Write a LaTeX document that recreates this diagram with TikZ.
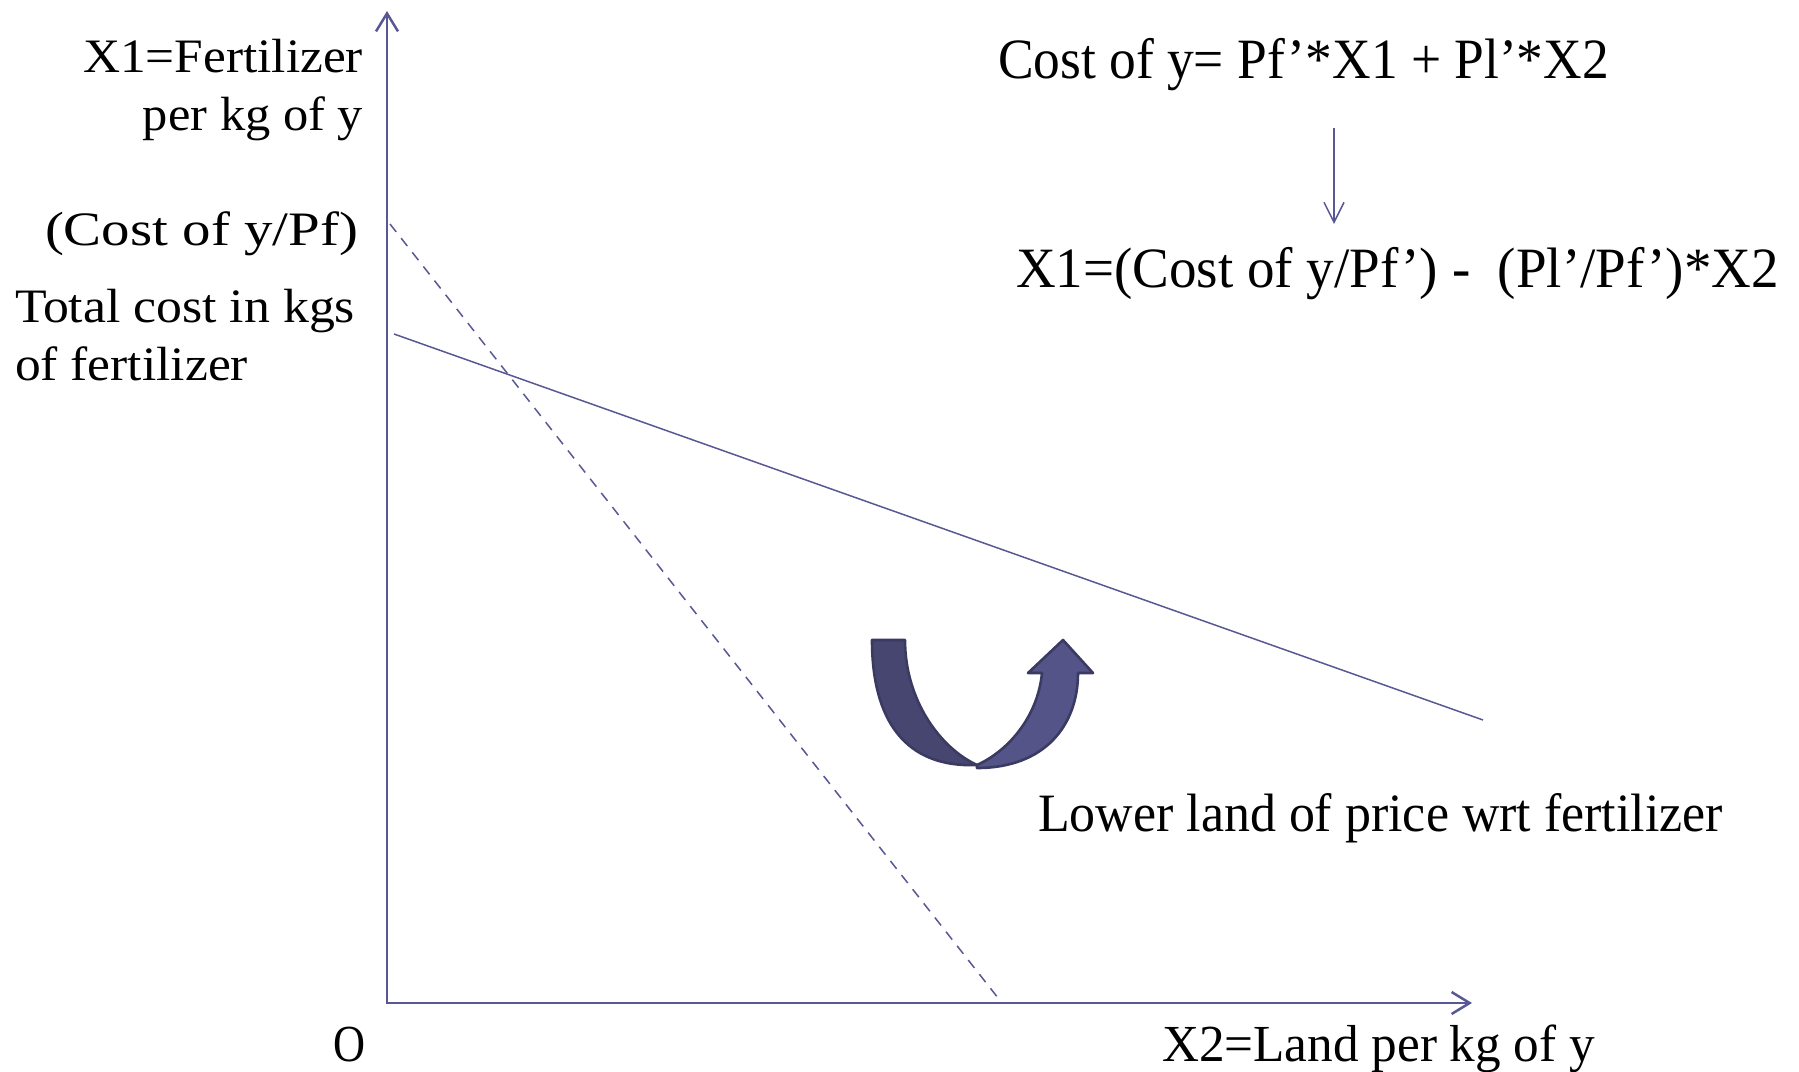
\documentclass[tikz,border=0pt]{standalone}
\usepackage{fontspec}
\setmainfont{Liberation Serif}
\usetikzlibrary{arrows.meta}
\newcommand\fw[3]{\fontsize{#1}{#1}\selectfont\resizebox{#2}{\height}{#3}}
\definecolor{axisc}{RGB}{88,88,148}
\definecolor{armdark}{RGB}{70,70,112}
\definecolor{armlight}{RGB}{84,84,136}
\definecolor{armline}{RGB}{58,58,98}
\tikzset{
  lbl/.style={inner sep=0pt, outer sep=0pt, text=black},
  axisline/.style={draw=axisc, line width=1.25pt},
  budget/.style={draw=axisc, line width=0.75pt},
}
\begin{document}
\begin{tikzpicture}[x=0.5pt,y=-0.5pt]
\path[use as bounding box] (0,0) rectangle (1799,1071);
% axes
\coordinate (ytop) at (387,11);
\coordinate (orig) at (387,1003);
\coordinate (xend) at (1472,1003);
\draw[axisline,{Straight Barb[length=9pt,width=11pt]}-{Straight Barb[length=9pt,width=11pt]}] (ytop) -- (orig) -- (xend);
% budget lines
\coordinate (d1) at (390,224);
\coordinate (d2) at (1002,1003);
\draw[budget,dashed,dash pattern=on 5pt off 4pt] (d1) -- (d2);
\coordinate (s1) at (394,334);
\coordinate (s2) at (1483,720);
\draw[budget] (s1) -- (s2);
% left labels
\node[lbl,anchor=base east] (x1lab) at (363,72) {\fw{24pt}{140pt}{X1=Fertilizer}};
\node[lbl,anchor=base east] (x1lab2) at (363,130) {\fw{24pt}{110pt}{per kg of y}};
\node[lbl,anchor=base east] (costpf) at (358,245) {\fw{24pt}{156.5pt}{(Cost of y/Pf)}};
\node[lbl,anchor=base west] (tot1) at (15,322) {\fw{24pt}{170pt}{Total cost in kgs}};
\node[lbl,anchor=base west] (tot2) at (15,380) {\fw{24pt}{116.5pt}{of fertilizer}};
% equations
\node[lbl,anchor=base west] (eq1) at (998,78) {\fw{28.5pt}{305.5pt}{Cost of y= Pf’*X1 + Pl’*X2}};
\node[lbl,anchor=base west] (eq2) at (1016,287) {\fw{28.5pt}{381.5pt}{X1=(Cost of y/Pf’) -\ \ (Pl’/Pf’)*X2}};
\coordinate (a1) at (1334,128);
\coordinate (a2) at (1334,224);
\draw[draw=axisc, line width=0.75pt, -{Straight Barb[length=10pt,width=10pt]}] (a1) -- (a2);
% bottom labels
\node[lbl,anchor=base west] (olab) at (333,1061) {\fw{26pt}{16pt}{O}};
\node[lbl,anchor=base west] (x2lab) at (1162,1061) {\fw{26pt}{216.5pt}{X2=Land per kg of y}};
\node[lbl,anchor=base west] (lower) at (1038,831) {\fw{27pt}{342.5pt}{Lower land of price wrt fertilizer}};
% U-turn arrow
\filldraw[fill=armdark, draw=armline, line width=1.3pt, line join=round]
  (872,640) -- (905,640)
  .. controls (905,700) and (940,748) .. (977,765)
  .. controls (905,768) and (872,720) .. (872,640) -- cycle;
\filldraw[fill=armlight, draw=armline, line width=1.3pt, line join=round]
  (977,765) .. controls (1010,750) and (1038,715) .. (1042,673)
  -- (1028,673) -- (1063,640) -- (1093,673) -- (1078,673)
  .. controls (1078,725) and (1045,768) .. (977,768) -- cycle;
\end{tikzpicture}
\end{document}
